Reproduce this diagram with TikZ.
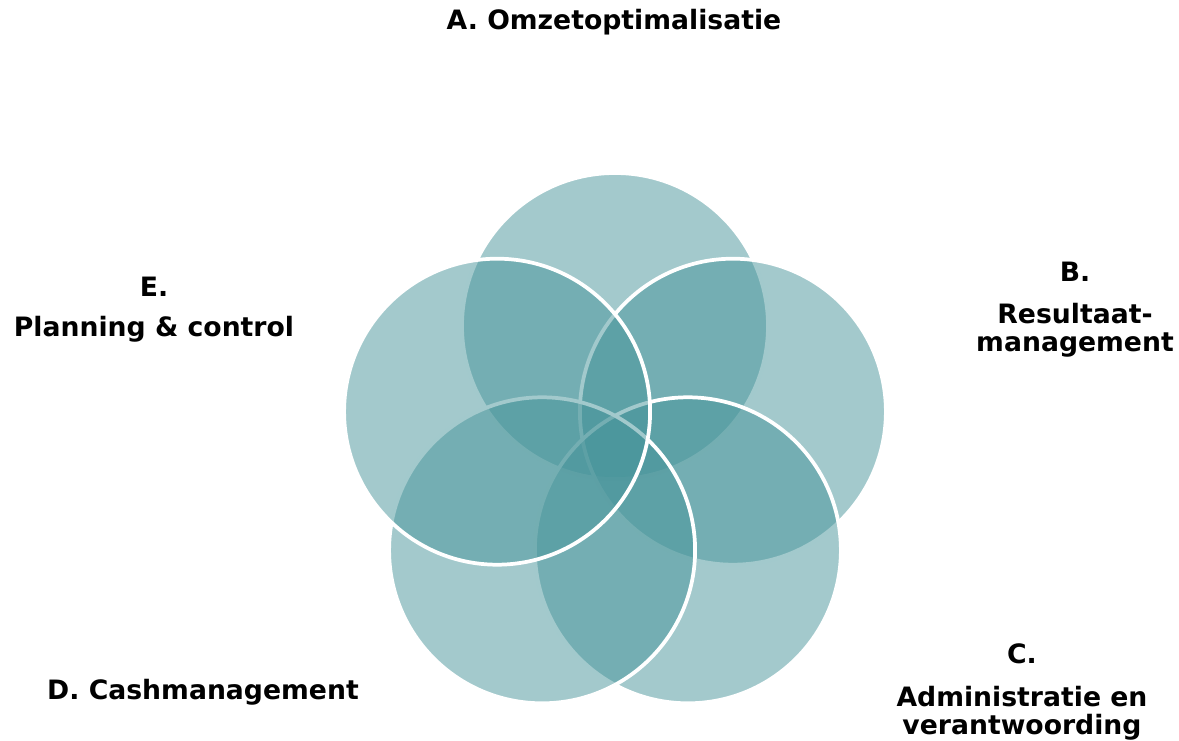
\documentclass[tikz,border=0pt]{standalone}
\usepackage{fontspec}
\setmainfont{DejaVu Sans}
\definecolor{teal0}{RGB}{71,148,154}
\tikzset{
  venn/.style={circle, inner sep=0pt, outer sep=0pt, minimum size=229.5pt,
    fill=teal0, fill opacity=0.5, draw=white, draw opacity=1, line width=2.8pt},
  lbl/.style={font=\bfseries\fontsize{20}{21}\selectfont, align=center, inner sep=0pt, anchor=base}
}
\begin{document}
\begin{tikzpicture}[x=0.75pt,y=-0.75pt]
\path[use as bounding box] (0,0) rectangle (1179,741);
\node[venn] (cA) at (615,326) {};
\node[venn] (cB) at (732.9,411.7) {};
\node[venn] (cC) at (687.9,550.3) {};
\node[venn] (cD) at (542.1,550.3) {};
\node[venn] (cE) at (497.1,411.7) {};
\node[lbl] (tA) at (614,30) {A. Omzetoptimalisatie};
\node[lbl] (tB) at (1075,352) {B.\\[11pt] Resultaat-\\management};
\node[lbl] (tC) at (1022,734) {C.\\[11pt] Administratie en\\verantwoording};
\node[lbl] (tD) at (203,699) {D. Cashmanagement};
\node[lbl] (tE) at (154,337) {E.\\[9pt] Planning \& control};
\end{tikzpicture}
\end{document}
